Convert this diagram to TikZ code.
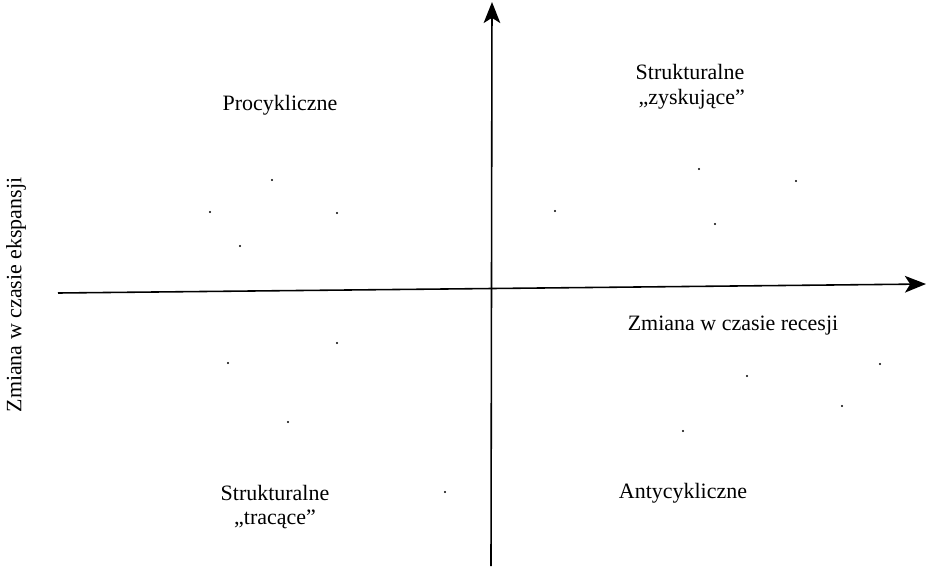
\documentclass[tikz,border=0pt]{standalone}
\usepackage{fontspec}
\setmainfont{Liberation Serif}
\usetikzlibrary{arrows.meta}
\begin{document}
\begin{tikzpicture}[x=0.02cm,y=-0.02cm,font=\fontsize{12.5}{14}\selectfont,
  axis/.style={line width=0.9pt,-{Stealth[length=12pt,width=9.5pt,inset=3pt]}},
  pt/.style={fill=black,draw=none}]
\useasboundingbox (0,0) rectangle (938,569);
\coordinate (xl) at (58,293);
\coordinate (xr) at (926,284);
\coordinate (yb) at (491,566);
\coordinate (yt) at (492,2);
\draw [axis] (xl)-- (xr);
\draw [axis] (yb)-- (yt);
\node (pro) at (280,105) {Procykliczne};
\node[align=center] (zys) at (690,87) {Strukturalne\\\kern2pt„zyskujące”};
\node (rec) at (733,326) {Zmiana w czasie recesji};
\node (anty) at (683,493) {Antycykliczne};
\node[align=center] (tra) at (275,507) {Strukturalne\\„tracące”};
\node[rotate=90] (eks) at (16,295) {Zmiana w czasie ekspansji};
\foreach \p in {(272,180),(210,212),(337,213),(240,246),
  (555,211),(699,169),(796,181),(715,224),
  (337,343),(228,363),(288,422),(445,492),
  (880,364),(747,376),(842,406),(683,431)}
  \fill [pt] \p circle (1.2);
\end{tikzpicture}
\end{document}
